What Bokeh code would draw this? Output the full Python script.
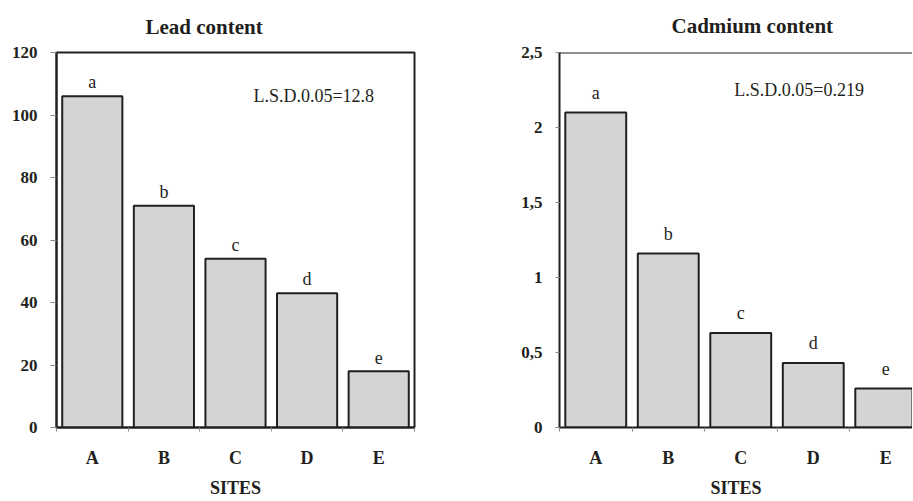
from bokeh.plotting import figure
from bokeh.models import Range1d, FixedTicker, Label, Span
from bokeh.layouts import row
from bokeh.embed import file_html
from bokeh.resources import INLINE
from bokeh.core.properties import value

# ---------------- data ----------------
sites = ["A", "B", "C", "D", "E"]
lead = [106, 71, 54, 43, 18]
cadmium = [2.10, 1.16, 0.63, 0.43, 0.26]
letters = ["a", "b", "c", "d", "e"]
lead_yticks = [0, 20, 40, 60, 80, 100, 120]
lead_ytick_labels = ["0", "20", "40", "60", "80", "100", "120"]
cd_yticks = [0, 0.5, 1, 1.5, 2, 2.5]
cd_ytick_labels = ["0", "0,5", "1", "1,5", "2", "2,5"]
lead_title = "Lead content"
cd_title = "Cadmium content"
lead_lsd = "L.S.D.0.05=12.8"
cd_lsd = "L.S.D.0.05=0.219"
xlabel = "SITES"

FONT = "Liberation Serif"
DARK = "#231f20"
TICK = "#8a8a8a"
FILL = "#d3d4d6"


def panel(values, ymax, yticks, ylabels, title, title_offset, title_standoff,
          lsd, lsd_x, lsd_y, width, height, mb_left, mb_right, mb_top, mb_bottom,
          xend, full_outline, letter_offset, ytick_len):
    p = figure(width=width, height=height, output_backend="svg", toolbar_location=None,
               x_range=Range1d(0, xend), y_range=Range1d(0, ymax),
               min_border_left=mb_left, min_border_right=mb_right,
               min_border_top=mb_top, min_border_bottom=mb_bottom,
               background_fill_color="white", border_fill_color="white")
    p.xgrid.visible = False
    p.ygrid.visible = False

    centers = [i + 0.5 for i in range(len(sites))]
    bounds = [i for i in range(len(sites) + 1)]

    p.vbar(x=centers, top=values, bottom=0, width=0.84, fill_color=FILL,
           line_color=DARK, line_width=2)
    p.text(x=centers, y=values, text=letters, text_font=value(FONT),
           text_font_size="18px", text_align="center", text_baseline="alphabetic",
           y_offset=letter_offset, text_color=DARK)

    p.add_layout(Label(x=lsd_x, y=lsd_y, text=lsd, text_font=FONT,
                       text_font_size="18px", text_baseline="alphabetic",
                       text_color=DARK))

    # title
    p.title.text = title
    p.title.align = "left"
    p.title.offset = title_offset
    p.title.text_font = FONT
    p.title.text_font_style = "bold"
    p.title.text_font_size = "21px"
    p.title.text_color = DARK
    p.title.vertical_align = "top"
    p.title.standoff = title_standoff

    # x axis
    xa = p.xaxis[0]
    xa.ticker = FixedTicker(ticks=centers, minor_ticks=bounds)
    xa.major_label_overrides = {c: s for c, s in zip(centers, sites)}
    xa.major_tick_out = 0
    xa.major_tick_in = 0
    xa.minor_tick_out = 4
    xa.minor_tick_in = 0
    xa.minor_tick_line_color = TICK
    xa.minor_tick_line_width = 1
    xa.axis_line_color = DARK
    xa.axis_line_width = 2
    xa.major_label_text_font = FONT
    xa.major_label_text_font_style = "bold"
    xa.major_label_text_font_size = "18px"
    xa.major_label_text_color = DARK
    xa.major_label_standoff = 16
    xa.axis_label = xlabel
    xa.axis_label_text_font = FONT
    xa.axis_label_text_font_style = "bold"
    xa.axis_label_text_font_size = "18px"
    xa.axis_label_text_color = DARK
    xa.axis_label_standoff = 7

    # y axis
    ya = p.yaxis[0]
    ya.ticker = FixedTicker(ticks=yticks, minor_ticks=[])
    ya.major_label_overrides = {t: s for t, s in zip(yticks, ylabels)}
    ya.major_tick_out = ytick_len
    ya.major_tick_in = 0
    ya.major_tick_line_color = TICK
    ya.minor_tick_line_color = None
    ya.axis_line_color = DARK
    ya.axis_line_width = 2
    ya.major_label_text_font = FONT
    ya.major_label_text_font_style = "bold"
    ya.major_label_text_font_size = "17px"
    ya.major_label_text_color = DARK
    ya.major_label_standoff = 13

    if full_outline:
        p.outline_line_color = DARK
        p.outline_line_width = 2
        p.outline_line_alpha = 1
    else:
        p.outline_line_color = None
        p.add_layout(Span(location=ymax, dimension="width", line_color=DARK,
                          line_width=2))
    return p


p1 = panel(lead, 120, lead_yticks, lead_ytick_labels, lead_title, 89, 24, lead_lsd,
           2.75, 106, 448, 501, 56, 34, 49, 73, 5, True, -14, 6)
p2 = panel(cadmium, 2.5, cd_yticks, cd_ytick_labels, cd_title, 112, 26, cd_lsd,
           2.41, 2.25, 464, 501, 111, 0, 51, 74, 353 / 72.5, False, -20, 4)

layout = row(p1, p2)
open("out.html", "w").write(file_html(layout, INLINE, title="Lead and cadmium content"))
